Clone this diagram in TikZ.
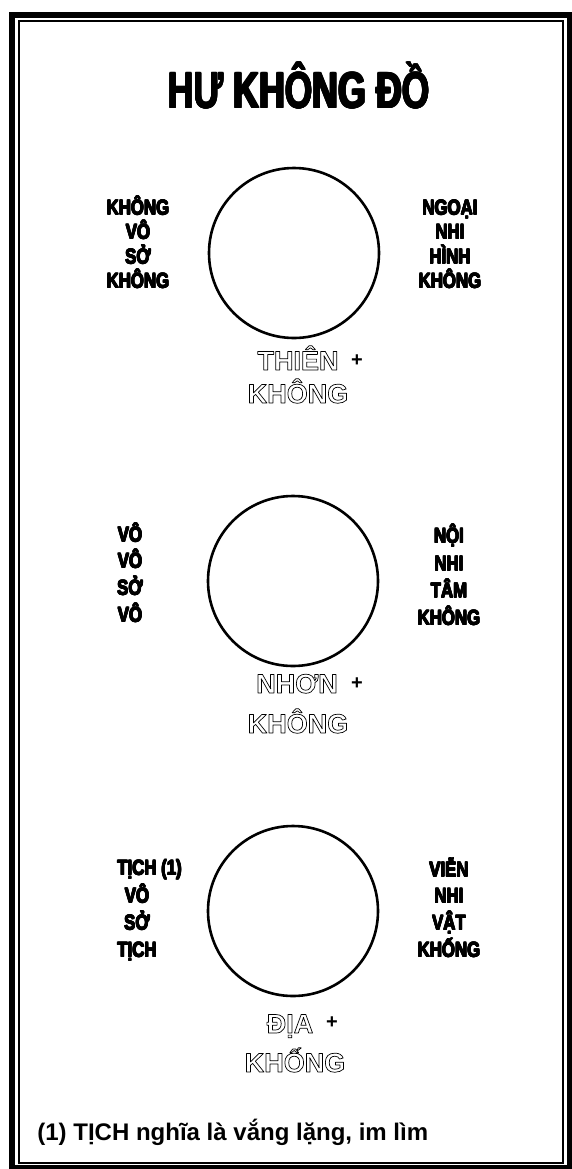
\documentclass[tikz,border=0pt]{standalone}
\usepackage{fontspec}
\setmainfont{Liberation Sans}
\newfontfamily\titlefont[FakeStretch=0.7]{Liberation Sans Bold}
\newfontfamily\lblfont[FakeStretch=0.8]{Liberation Sans Bold}
\newfontfamily\hollowfont{Liberation Sans Bold}
\newfontfamily\notefont{Liberation Sans Bold}
% text render mode 1 = stroke only
\newcommand{\hollow}[1]{\special{pdf:literal direct 0 G 1 Tr 0.35 w 1 j}#1\special{pdf:literal direct 0 Tr 0.4 w 0 j}}
% heavier face: a few shifted copies under the text
\newcommand{\heavy}[2][0.22pt]{%
  \rlap{\kern#1\hbox{#2}}\rlap{\kern-#1\hbox{#2}}%
  \rlap{\raise#1\hbox{#2}}\rlap{\lower#1\hbox{#2}}%
  \rlap{\kern#1\raise#1\hbox{#2}}\rlap{\kern-#1\raise#1\hbox{#2}}%
  \rlap{\kern#1\lower#1\hbox{#2}}\rlap{\kern-#1\lower#1\hbox{#2}}#2}
\usetikzlibrary{positioning}

\begin{document}
\begin{tikzpicture}[x=0.5pt,y=-0.5pt,
  ring/.style={draw,circle,line width=1.3pt,minimum size=85pt,inner sep=0pt},
  side/.style={align=center,anchor=base,inner sep=0pt,
    font=\lblfont\fontsize{10.5}{#1}\selectfont},
  hollowtxt/.style={anchor=base,inner sep=0pt,font=\hollowfont\fontsize{13.5}{16}\selectfont},
  plus/.style={inner sep=0pt,font=\notefont\fontsize{10}{12}\selectfont}]
  \useasboundingbox (0,0) rectangle (572,1169);

  % double frame
  \draw[line width=3pt] (12,15) rectangle (570,1168);
  \draw[line width=1pt] (19,21) rectangle (563,1163);

  % hollow names under the circles
  \node[hollowtxt] (thien) at (298,370) {\hollow{THIÊN}};
  \node[plus] (thienplus) at (357,361) {+};
  \node[hollowtxt] (thienk) at (298,403) {\hollow{KHÔNG}};
  \node[hollowtxt] (nhon) at (297,693) {\hollow{NHƠN}};
  \node[plus] (nhonplus) at (357,684) {+};
  \node[hollowtxt] (nhonk) at (298,733) {\hollow{KHÔNG}};
  \node[hollowtxt] (dia) at (290,1033) {\hollow{ĐỊA}};
  \node[plus] (diaplus) at (332,1023) {+};
  \node[hollowtxt] (diak) at (295,1072) {\hollow{KHỐNG}};

  % circles
  \node[ring] (thienring) at (294,253) {};
  \node[ring] (nhonring) at (293,581) {};
  \node[ring] (diaring) at (293,911) {};

  % side words (base = last line)
  \node[side=12.2] (topleft) at (138,288)
    {\heavy{KHÔNG}\\\heavy{VÔ}\\\heavy{SỞ}\\\heavy{KHÔNG}};
  \node[side=12.2] (topright) at (450,288)
    {\heavy{NGOẠI}\\\heavy{NHI}\\\heavy{HÌNH}\\\heavy{KHÔNG}};
  \node[side=13.4] (midleft) at (130,622)
    {\heavy{VÔ}\\\heavy{VÔ}\\\heavy{SỞ}\\\heavy{VÔ}};
  \node[side=13.6] (midright) at (449,625)
    {\heavy{NỘI}\\\heavy{NHI}\\\heavy{TÂM}\\\heavy{KHÔNG}};
  \node[side=13.6] (lowleft) at (137,957)
    {\hphantom{\ (1)}\heavy{TỊCH (1)}\\\heavy{VÔ}\\\heavy{SỞ}\\\heavy{TỊCH}};
  \node[side=13.4] (lowright) at (449,957)
    {\heavy{VIỄN}\\\heavy{NHI}\\\heavy{VẬT}\\\heavy{KHỐNG}};

  \node[anchor=base,inner sep=0pt,font=\titlefont\fontsize{25.5}{30}\selectfont]
    (title) at (299,108) {\heavy[0.4pt]{HƯ KHÔNG ĐỒ}};
  \node[anchor=base west,inner sep=0pt,font=\notefont\fontsize{12}{14}\selectfont]
    (note) at (37,1140) {(1) TỊCH nghĩa là vắng lặng, im lìm};
\end{tikzpicture}
\end{document}
